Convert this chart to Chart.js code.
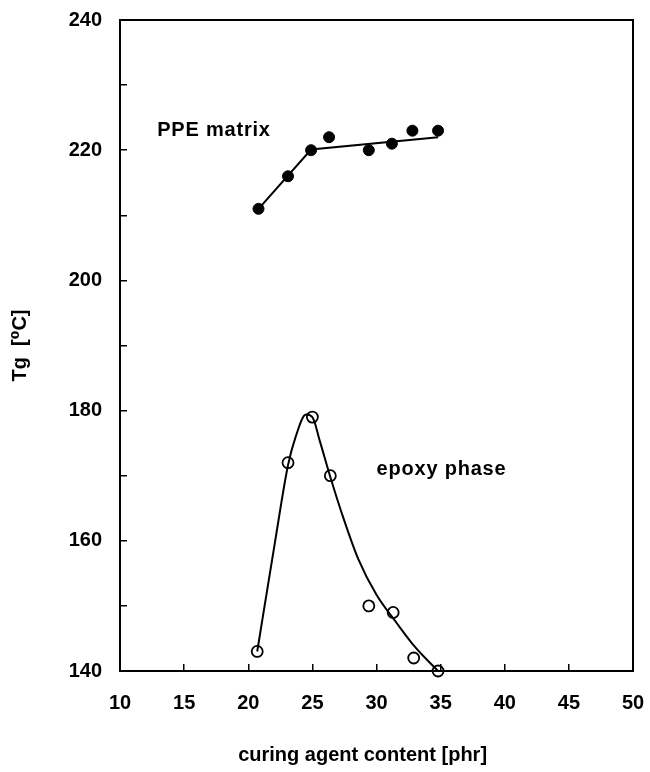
<!DOCTYPE html>
<html>
<head>
<meta charset="utf-8">
<script src="https://cdn.jsdelivr.net/npm/chart.js@4"></script>
<style>
  html, body { margin: 0; padding: 0; background: #fff; }
  #wrap { width: 650px; height: 772px; }
</style>
</head>
<body>
<div id="wrap"><canvas id="c" width="650" height="772"></canvas></div>
<script>
// Glass transition temperature vs. curing agent content
const ppeContent = [20.8, 23.1, 24.9, 26.3, 29.4, 31.2, 32.8, 34.8];
const ppeTg      = [211, 216, 220, 222, 220, 221, 223, 223];

const epoxyContent = [20.7, 23.1, 25.0, 26.4, 29.4, 31.3, 32.9, 34.8];
const epoxyTg      = [143, 172, 179, 170, 150, 149, 142, 140];

// fitted trend lines
const ppeFitContent = [20.8, 24.9, 34.8];
const ppeFitTg      = [211, 220.1, 222.0];

const epoxyFitContent = [20.7, 22.1, 23.1, 23.7, 24.5, 25.0, 25.6, 26.4, 27.3, 28.6, 30.0, 31.6, 33.0, 34.8];
const epoxyFitTg      = [143, 160, 171.6, 176, 179.4, 179.0, 175.2, 169.8, 164.2, 157.1, 151.7, 147.3, 143.7, 140];

const xTicks = [10, 15, 20, 25, 30, 35, 40, 45, 50];
const yTicks = [140, 150, 160, 170, 180, 190, 200, 210, 220, 230, 240];

const notes = [
  { text: 'PPE matrix', x: 12.9, y: 223 },
  { text: 'epoxy phase', x: 30.0, y: 171 }
];

const pts = (xs, ys) => xs.map((x, i) => ({ x, y: ys[i] }));

const FONT = '"Liberation Sans", Arial, Helvetica, sans-serif';

const notePlugin = {
  id: 'notes',
  afterDatasetsDraw(chart) {
    const { ctx, scales: { x, y } } = chart;
    ctx.save();
    ctx.font = 'bold 20px ' + FONT;
    ctx.letterSpacing = '0.8px';
    ctx.fillStyle = '#000';
    ctx.textAlign = 'left';
    ctx.textBaseline = 'middle';
    notes.forEach(n => ctx.fillText(n.text, x.getPixelForValue(n.x), y.getPixelForValue(n.y)));
    ctx.restore();
  }
};

new Chart(document.getElementById('c'), {
  type: 'line',
  data: {
    datasets: [
      {
        data: pts(ppeFitContent, ppeFitTg),
        borderColor: '#000', borderWidth: 2, pointRadius: 0, fill: false, tension: 0
      },
      {
        data: pts(epoxyFitContent, epoxyFitTg),
        borderColor: '#000', borderWidth: 2, pointRadius: 0, fill: false,
        cubicInterpolationMode: 'monotone'
      },
      {
        data: pts(ppeContent, ppeTg),
        showLine: false, pointRadius: 5.5, pointBackgroundColor: '#000',
        pointBorderColor: '#000', pointBorderWidth: 1, clip: false
      },
      {
        data: pts(epoxyContent, epoxyTg),
        showLine: false, pointRadius: 5.5, pointBackgroundColor: 'rgba(0,0,0,0)',
        pointBorderColor: '#000', pointBorderWidth: 1.8, clip: false
      }
    ]
  },
  options: {
    responsive: false,
    animation: false,
    layout: { padding: { top: 20, right: 17, left: 0, bottom: 0 } },
    plugins: { legend: { display: false }, tooltip: { enabled: false } },
    scales: {
      x: {
        type: 'linear', position: 'bottom', min: 10, max: 50,
        afterBuildTicks: s => { s.ticks = xTicks.map(v => ({ value: v })); },
        afterFit: s => { s.height = 101; s.paddingLeft = 0; s.paddingRight = 0; },
        border: { display: true, color: '#000', width: 2 },
        grid: { drawOnChartArea: false, drawTicks: true, tickLength: -7, color: '#000', lineWidth: 1.5 },
        ticks: { color: '#000', padding: 27, maxRotation: 0, autoSkip: false,
                 font: { family: FONT, size: 20, weight: 'bold' } },
        title: { display: true, text: 'curing agent content [phr]\u00a0\u00a0\u00a0\u00a0\u00a0', color: '#000',
                 padding: { top: 0, bottom: 5 },
                 font: { family: FONT, size: 20, weight: 'bold' } }
      },
      y: {
        type: 'linear', position: 'left', min: 140, max: 240,
        afterBuildTicks: s => { s.ticks = yTicks.map(v => ({ value: v })); },
        afterFit: s => { s.width = 120; s.paddingTop = 0; s.paddingBottom = 0; },
        border: { display: true, color: '#000', width: 2 },
        grid: { drawOnChartArea: false, drawTicks: true, tickLength: -7, color: '#000', lineWidth: 1.5 },
        ticks: { color: '#000', padding: 25, autoSkip: false,
                 callback: v => (v % 20 === 0 ? String(v) : ''),
                 font: { family: FONT, size: 20, weight: 'bold' } },
        title: { display: true, text: 'Tg  [\u2070C]', color: '#000',
                 padding: { top: 8, bottom: 0 },
                 font: { family: FONT + ', "DejaVu Sans"', size: 20, weight: 'bold' } }
      },
      xTop: {
        type: 'linear', position: 'top', min: 10, max: 50,
        afterFit: s => { s.height = 0; s.paddingLeft = 0; s.paddingRight = 0; },
        border: { display: true, color: '#000', width: 2 },
        grid: { display: true, drawOnChartArea: false, drawTicks: false },
        ticks: { display: false }
      },
      yRight: {
        type: 'linear', position: 'right', min: 140, max: 240,
        afterFit: s => { s.width = 0; s.paddingTop = 0; s.paddingBottom = 0; },
        border: { display: true, color: '#000', width: 2 },
        grid: { display: true, drawOnChartArea: false, drawTicks: false },
        ticks: { display: false }
      }
    }
  },
  plugins: [notePlugin]
});
</script>
</body>
</html>
